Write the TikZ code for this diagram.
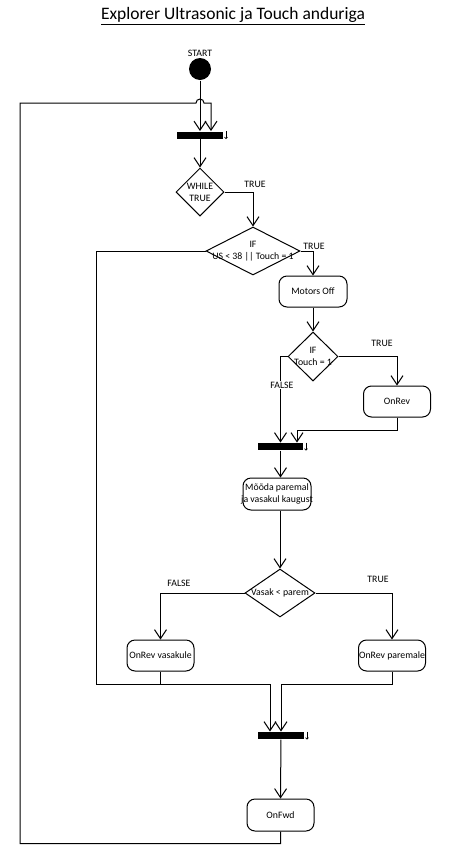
\documentclass[tikz,border=0pt]{standalone}
\usepackage{fontspec}
\setmainfont{Carlito}
\usepackage{tikz}
\usetikzlibrary{shapes.geometric,arrows.meta}

\begin{document}
\begin{tikzpicture}[x=1pt, y=-1pt, line width=1pt, font=\fontsize{9.8}{12}\selectfont]

% Set the overall size of the page
\useasboundingbox (0,0) rectangle (465,863);

% Define styles for actions, decisions and bars
\tikzstyle{act} = [draw, rectangle, rounded corners=8pt, inner sep=0pt, minimum width=67pt, minimum height=31pt]
\tikzstyle{dec} = [draw, diamond, inner sep=0pt]
\tikzstyle{bar} = [fill, rectangle, inner sep=0pt, minimum width=46pt, minimum height=7pt]
\tikzstyle{txt} = [inner sep=0pt, align=center]

%Define flechas abiertas y etiquetas de las ramas
\tikzstyle{arr}=[-{Straight Barb[length=9pt,width=12pt]}]
\tikzstyle{tiny}=[line width=0.6pt, -{Straight Barb[length=1.5pt,width=3pt]}]
\tikzstyle{rama}=[inner sep=1pt]

\node[txt] (title) at (233,16) {\fontsize{17.5}{20}\selectfont\underline{Explorer Ultrasonic ja Touch anduriga}};

\node[txt] (startlbl) at (200,53) {START};
\node[circle, fill, inner sep=0pt, minimum size=22pt] (start) at (200,69) {};

\node[bar] (bar1) at (200,135) {};
\node[dec, minimum width=48pt, minimum height=48pt, label={[txt]center:WHILE\\TRUE}] (while) at (200,192) {};
\node[dec, minimum width=94pt, minimum height=48pt, label={[txt]center:IF\\US < 38 || Touch = 1}] (ifus) at (253,251) {};
\node[act, minimum width=68pt, label={[txt]center:Motors Off}] (moff) at (313,291.5) {};
\node[dec, minimum width=50pt, minimum height=49pt, label={[txt]center:IF\\Touch = 1}] (iftouch) at (313,356.5) {};
\node[act, label={[txt]center:OnRev}] (onrev) at (397,401.5) {};
\node[bar, minimum width=45pt] (bar2) at (280.5,446.5) {};
\node[act, minimum width=68pt, minimum height=32pt, label={[txt]center:Mõõda paremal\\ja vasakul kaugust}] (measure) at (277,494) {};
\node[dec, minimum width=70pt, minimum height=48pt, label={[txt]center:Vasak < parem}] (vasak) at (280,593) {};
\node[act, label={[txt]center:OnRev vasakule}] (onrevl) at (160.5,655.5) {};
\node[act, label={[txt]center:OnRev paremale}] (onrevr) at (392,655.5) {};
\node[bar] (bar3) at (281,735.5) {};
\node[act, minimum height=32pt, label={[txt]center:OnFwd}] (onfwd) at (280.5,815) {};

% Small arrows at the bar ends
\draw[tiny] ([xshift=2.5pt]bar1.north east) -- ([xshift=2.5pt]bar1.south east);
\draw[tiny] ([xshift=2.5pt]bar2.north east) -- ([xshift=2.5pt]bar2.south east);
\draw[tiny] ([xshift=2.5pt]bar3.north east) -- ([xshift=2.5pt]bar3.south east);

% Corner point of the lower join
\coordinate (lowl) at (96,684);

% Connectors
\draw[arr] (start) -- (bar1.north);
\draw[arr] (onfwd.south) -- ++(0,12) -| (20,103) -- (196,103)
    arc[start angle=180, end angle=360, radius=4] -| ([xshift=11pt]bar1.north);
\draw[arr] (bar1) -- (while.north);
\draw[arr] (while.east) -| (ifus.north);
\draw[arr] (ifus.east) -| (moff.north);
\draw[arr] (ifus.west) -| (lowl) -| ([xshift=-11pt]bar3.north);
\draw[arr] (moff) -- (iftouch.north);
\draw[arr] (iftouch.east) -| (onrev.north);
\draw[arr] (iftouch.west) -| (bar2.north);
\draw[arr] (onrev.south) -- ++(0,13) -| ([xshift=16.5pt]bar2.north);
\draw[arr] (bar2) -- (bar2 |- measure.north);
\draw[arr] (vasak |- measure.south) -- (vasak.north);
\draw[arr] (vasak.west) -| (onrevl.north);
\draw[arr] (vasak.east) -| (onrevr.north);
\draw (onrevl.south) -- (onrevl.south |- lowl);
\draw[arr] (onrevr.south) -- (onrevr.south |- lowl) -| (bar3.north);
\draw[arr] (bar3) -- (onfwd.north);

% Branch labels
\node[rama] (t1) at (255,184) {TRUE};
\node[rama] (t2) at (314,246) {TRUE};
\node[rama] (t3) at (382,343) {TRUE};
\node[rama, fill=white] (f1) at (282,385) {FALSE};
\node[rama] (f2) at (179,583) {FALSE};
\node[rama] (t4) at (378,579) {TRUE};

\end{tikzpicture}
\end{document}
